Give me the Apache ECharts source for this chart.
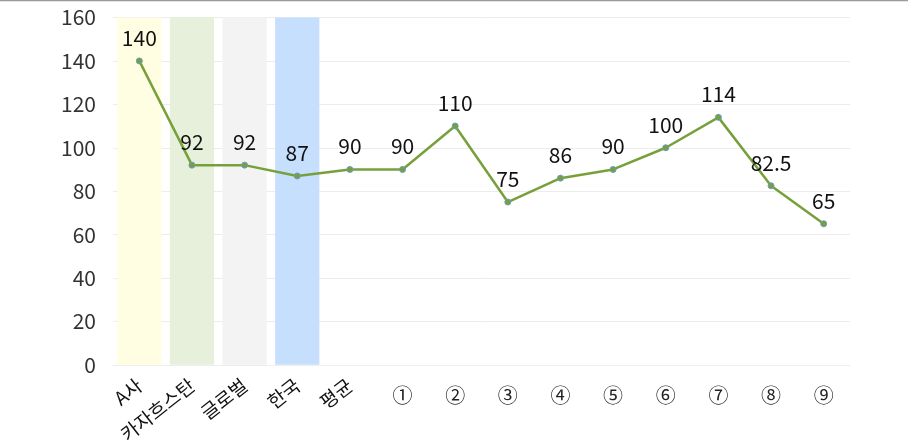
<!DOCTYPE html>
<html>
<head>
<meta charset="utf-8">
<script src="https://cdn.jsdelivr.net/npm/echarts@6/dist/echarts.min.js"></script>
<style>
  html, body { margin: 0; padding: 0; background: #fff; }
  #chart { width: 917px; height: 446px; }
</style>
</head>
<body>
<div id="chart"></div>
<script>
// Categories along the x axis
const categories = ['A사', '카자흐스탄', '글로벌', '한국', '평균', '①', '②', '③', '④', '⑤', '⑥', '⑦', '⑧', '⑨'];
// Index values per category
const values = [140, 92, 92, 87, 90, 90, 110, 75, 86, 90, 100, 114, 82.5, 65];
// Highlighted reference categories drawn as full-height bands
const bandCategories = ['A사', '카자흐스탄', '글로벌', '한국'];
// Y axis scale
const yMin = 0, yMax = 160, yStep = 20;

const bandColors = ['#fffee2', '#e6f0da', '#f3f3f3', '#c6dffd'];
const rotatedCount = 5; // names are rotated; circled numbers stay upright
const FONT = '"Noto Sans CJK KR", "Noto Sans", sans-serif';

const bandData = categories.map(c => {
  const i = bandCategories.indexOf(c);
  return i < 0 ? null : { value: yMax, itemStyle: { color: bandColors[i] } };
});

const chart = echarts.init(document.getElementById('chart'), null, { renderer: 'canvas' });
chart.setOption({
  animation: false,
  backgroundColor: '#ffffff',
  textStyle: { fontFamily: FONT },
  graphic: [{
    type: 'line',
    shape: { x1: 0, y1: 0.5, x2: 908, y2: 0.5 },
    style: { stroke: '#9a9a9a', lineWidth: 1.5 }
  }],
  grid: { left: 113, right: 67, top: 17.5, bottom: 80 },
  xAxis: [{
    type: 'category',
    data: categories,
    boundaryGap: true,
    axisLine: { lineStyle: { color: '#eeeeee', width: 1 } },
    axisTick: { show: false },
    axisLabel: {
      interval: 0,
      rotate: 38,
      margin: 18,
      fontSize: 19,
      color: '#111',
      fontFamily: FONT,
      formatter: (v, i) => i < rotatedCount ? v : ''
    }
  }, {
    type: 'category',
    data: categories,
    position: 'bottom',
    boundaryGap: true,
    axisLine: { show: false },
    axisTick: { show: false },
    axisLabel: {
      interval: 0,
      margin: 21,
      fontSize: 20,
      color: '#222',
      fontFamily: FONT,
      formatter: (v, i) => i >= rotatedCount ? v : ''
    }
  }],
  yAxis: {
    type: 'value',
    min: yMin,
    max: yMax,
    interval: yStep,
    axisLine: { show: false },
    axisTick: { show: false },
    splitLine: { lineStyle: { color: '#ececec', width: 1 } },
    axisLabel: { fontSize: 21, color: '#333', margin: 17, fontFamily: FONT }
  },
  series: [{
    type: 'bar',
    xAxisIndex: 0,
    data: bandData,
    barWidth: '84%',
    silent: true,
    z: 1
  }, {
    type: 'line',
    xAxisIndex: 0,
    data: values,
    symbol: 'circle',
    symbolSize: 6,
    lineStyle: { color: '#77a03b', width: 2.5 },
    itemStyle: { color: '#77a03b', borderColor: '#6d9cc4', borderWidth: 1 },
    label: {
      show: true,
      position: 'top',
      distance: 9,
      fontSize: 21,
      color: '#111',
      fontFamily: FONT
    },
    z: 3
  }]
});
</script>
</body>
</html>
